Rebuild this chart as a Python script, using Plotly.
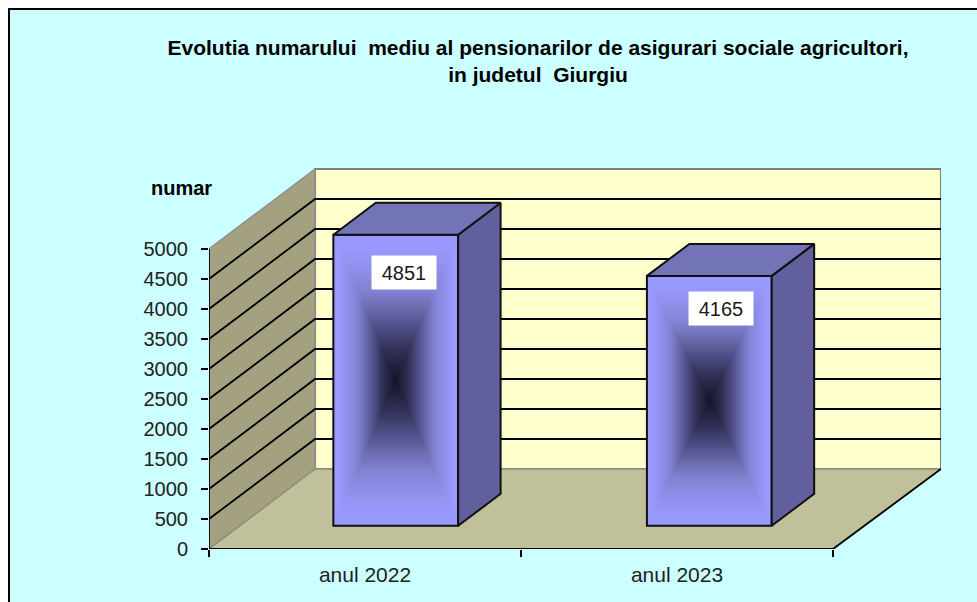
import numpy as np
import plotly.graph_objects as go

categories = ["anul 2022", "anul 2023"]
values = [4851, 4165]
y_ticks = list(range(0, 5001, 500))
title_text = ("Evolutia numarului  mediu al pensionarilor de asigurari sociale agricultori,"
              "<br>in judetul  Giurgiu")
y_title = "numar"

# oblique projection of the depth axis, in data units
DEPTH_X = 0.34
DEPTH_Y = 1333
BAR_WIDTH = 0.4
D_FRONT = 0.29
D_BACK = 0.69
WALL_EXTRA = 0.006
FONT = "Liberation Sans"
bar_slots = [0.5, 1.505]


def proj(x, v, d):
    return x + d * DEPTH_X, v + d * DEPTH_Y


def poly(points):
    head = f"M{points[0][0]},{points[0][1]}"
    return head + "".join(f"L{a},{b}" for a, b in points[1:]) + "Z"


n = len(categories)
vmax = y_ticks[-1]
wall_r = n + WALL_EXTRA
shapes = [
    dict(type="rect", xref="paper", yref="paper",
         x0=(9 - 209) / 732, x1=1.2, y0=-0.3, y1=(549 - 9) / 381,
         fillcolor="#CCFFFF", line=dict(color="black", width=2), layer="below"),
    dict(type="path", path=poly([proj(0, 0, 1), proj(wall_r, 0, 1), proj(wall_r, vmax, 1), proj(0, vmax, 1)]),
         fillcolor="#FFFFCC", line=dict(color="#7f7f7f", width=2), layer="below"),
    dict(type="path", path=poly([proj(0, 0, 0), proj(0, 0, 1), proj(0, vmax, 1), proj(0, vmax, 0)]),
         fillcolor="#A3A17F", line=dict(color="#8f8f8f", width=1.5), layer="below"),
    dict(type="path", path=poly([proj(0, 0, 0), proj(n, 0, 0), proj(wall_r, 0, 1), proj(0, 0, 1)]),
         fillcolor="#C0C09A", line=dict(color="#8f8f7f", width=1.5), layer="below"),
]
for v in y_ticks[1:-1]:
    xa, ya = proj(0, v, 0)
    xb, yb = proj(0, v, 1)
    xc, yc = proj(wall_r, v, 1)
    shapes.append(dict(type="path", path=f"M{xa},{ya}L{xb},{yb}L{xc},{yc}",
                       line=dict(color="black", width=1.8), layer="below"))
# axis edges
xe, ye = proj(wall_r, 0, 1)
shapes.append(dict(type="path", path=f"M0,{vmax}L0,0L{n},0L{xe},{ye}",
                   line=dict(color="black", width=1.8), layer="below"))

fig = go.Figure()

colorscale = [[0, "#14142A"], [0.2, "#2F2F55"], [0.37, "#50508A"], [0.5, "#6C6CB0"],
              [0.62, "#8282D4"], [0.8, "#9292F0"], [0.92, "#9999FF"], [1, "#9999FF"]]
front_x = []
for i, v in enumerate(values):
    cx, base = proj(bar_slots[i], 0, D_FRONT)
    front_x.append(cx)
    xs = np.linspace(cx - BAR_WIDTH / 2, cx + BAR_WIDTH / 2, 127)
    ys = np.linspace(base, base + v, 280)
    u = np.abs(np.linspace(-1, 1, 127))
    w = np.abs(np.linspace(-1, 1, 280))
    z = np.maximum(u[None, :], w[:, None])
    fig.add_trace(go.Heatmap(x=xs, y=ys, z=z, colorscale=colorscale, zmin=0, zmax=1,
                             showscale=False, hoverinfo="skip"))

base_front = proj(0, 0, D_FRONT)[1]
fig.add_trace(go.Bar(x=front_x, y=values, base=[base_front] * n, width=BAR_WIDTH,
                     marker=dict(color="rgba(0,0,0,0)", line=dict(color="#111111", width=2)),
                     hovertemplate="%{y}<extra></extra>"))

for i, v in enumerate(values):
    l, r = bar_slots[i] - BAR_WIDTH / 2, bar_slots[i] + BAR_WIDTH / 2
    side = [proj(r, 0, D_FRONT), proj(r, 0, D_BACK), proj(r, v, D_BACK), proj(r, v, D_FRONT), proj(r, 0, D_FRONT)]
    top = [proj(l, v, D_FRONT), proj(r, v, D_FRONT), proj(r, v, D_BACK), proj(l, v, D_BACK), proj(l, v, D_FRONT)]
    for pts, col in ((side, "#625F9E"), (top, "#7373B8")):
        fig.add_trace(go.Scatter(x=[p[0] for p in pts], y=[p[1] for p in pts], mode="lines",
                                 fill="toself", fillcolor=col, line=dict(color="#111111", width=2),
                                 hoverinfo="skip"))

label_dx = [8, 12]
label_dy = [-38, -33]
annotations = []
for i, v in enumerate(values):
    annotations.append(dict(x=front_x[i], y=base_front + v, text=str(v), showarrow=False,
                            xshift=label_dx[i], yshift=label_dy[i], bgcolor="white",
                            xanchor="center", yanchor="middle",
                            width=64, height=33, align="center", valign="middle",
                            font=dict(family=FONT, size=20, color="#1a1a1a"),
                            borderpad=0))
annotations.append(dict(xref="paper", yref="paper", x=(181.5 - 209) / 732, y=(549 - 188) / 381,
                        xanchor="center", yanchor="middle",
                        text=f"<b>{y_title}</b>", showarrow=False,
                        font=dict(family=FONT, size=20, color="black")))

fig.update_layout(
    width=977, height=602,
    margin=dict(l=209, r=36, t=168, b=53, pad=0),
    paper_bgcolor="white", plot_bgcolor="rgba(0,0,0,0)",
    showlegend=False,
    title=dict(text=f"<b>{title_text}</b>", x=538 / 977, xanchor="center", y=1 - 55 / 602, yanchor="middle",
               font=dict(family=FONT, size=21, color="black")),
    xaxis=dict(range=[0, 732 / 312], showgrid=False, zeroline=False, showline=False,
               tickvals=[i + 0.5 for i in range(n)], ticktext=categories, ticks="",
               ticklabelstandoff=11,
               minor=dict(tickvals=list(range(n + 1)), ticks="outside", ticklen=7,
                          tickcolor="black", tickwidth=1.5, showgrid=False),
               tickfont=dict(family=FONT, size=21, color="#222222"), fixedrange=True),
    yaxis=dict(range=[0, 381 / 0.06], showgrid=False, zeroline=False, showline=False,
               tickvals=y_ticks, ticktext=[str(t) for t in y_ticks], ticks="outside", ticklen=7,
               tickcolor="black", tickwidth=1.5, ticklabelstandoff=9,
               tickfont=dict(family=FONT, size=20, color="#222222"), fixedrange=True),
    shapes=shapes, annotations=annotations,
)

fig.write_html("out.html", config=dict(displayModeBar=False),
               post_script="document.body.style.margin='0';document.body.style.overflow='hidden';")
